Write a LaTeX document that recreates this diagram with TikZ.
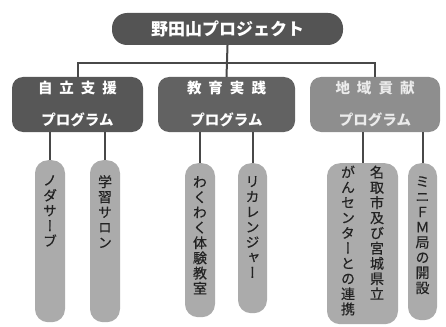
\documentclass[tikz,border=0pt]{standalone}
\usepackage{fontspec}
\setmainfont{Noto Sans CJK JP}
\newfontfamily\jpv[RawFeature=+vert,FakeBold=0.35]{Noto Sans CJK JP}
\definecolor{topgray}{HTML}{545454}
\definecolor{boxA}{HTML}{575757}
\definecolor{boxB}{HTML}{626262}
\definecolor{boxC}{HTML}{8E8E8E}
\definecolor{leafgray}{HTML}{ABABAB}
\definecolor{linegray}{HTML}{484848}
\definecolor{leaftext}{HTML}{222222}
\newcommand\vcol[3]{\vtop{\hsize=#2\parindent=0pt\vspace*{#1}\centering #3\par}}
\newcommand\leafbox[3]{\parbox[c][#1][t]{#2}{\centering\leavevmode#3\par}}
\tikzset{
  topnode/.style={fill=topgray, text=white, rounded corners=15pt, inner sep=0pt,
    minimum width=231pt, minimum height=32pt, font=\bfseries\fontsize{17}{20}\selectfont},
  progbox/.style={rounded corners=11pt, inner sep=0pt, minimum height=55pt,
    align=center, font=\bfseries\fontsize{14.5}{32}\selectfont},
  leaf/.style={fill=leafgray, rounded corners=13pt, inner sep=0pt, anchor=north,
    text=leaftext, font=\jpv\fontsize{14}{15.2}\selectfont},
  conn/.style={draw=linegray, line width=2pt}
}
\begin{document}
\begin{tikzpicture}[x=1pt,y=-1pt]
\useasboundingbox (0,0) rectangle (446,326);
\node[topnode] (top) at (227.5,29) {野田山プロジェクト};
\node[progbox, fill=boxA, text=white, minimum width=131pt] (p1) at (77.5,104.5)
  {自\hspace{7pt}立\hspace{7pt}支\hspace{7pt}援\\プログラム};
\node[progbox, fill=boxB, text=white, minimum width=137pt] (p2) at (226.5,104.5)
  {教\hspace{7pt}育\hspace{7pt}実\hspace{7pt}践\\プログラム};
\node[progbox, fill=boxC, text=white!92!black, minimum width=130pt] (p3) at (375,104.5)
  {地\hspace{7pt}域\hspace{7pt}貢\hspace{7pt}献\\プログラム};
\coordinate (bus) at (227.5,63);
\draw[conn] (top.south) -- (p2.north);
\draw[conn] (p1.north) |- (bus) -| (p3.north);

\node[leaf] (l1) at (50,160) {\leafbox{162pt}{30pt}{\vcol{15pt}{30pt}{ノ\\ダ\\サ\\ー\\ブ}}};
\node[leaf] (l2) at (105,160) {\leafbox{162pt}{30pt}{\vcol{15pt}{30pt}{学\\習\\サ\\ロ\\ン}}};
\node[leaf] (l3) at (200,163) {\leafbox{154pt}{30pt}{\vcol{13pt}{30pt}{わ\\く\\わ\\く\\体\\験\\教\\室}}};
\node[leaf] (l4) at (252.5,163) {\leafbox{150pt}{29pt}{\vcol{13pt}{29pt}{リ\\カ\\レ\\ン\\ジ\\ャ\\ー}}};
\node[leaf] (l5) at (362.5,163) {\leafbox{161pt}{71pt}{%
  \vcol{2.5pt}{15pt}{が\\ん\\セ\\ン\\タ\\ー\\と\\の\\連\\携}%
  \hspace{14pt}%
  \vcol{2.5pt}{15pt}{名\\取\\市\\及\\び\\宮\\城\\県\\立}}};
\node[leaf] (l6) at (422.5,163) {\leafbox{157pt}{29pt}{\vcol{13pt}{29pt}{ミ\\ニ\\Ｆ\\Ｍ\\局\\の\\開\\設}}};

\draw[conn] (p1.south -| l1.north) -- (l1.north);
\draw[conn] (p1.south -| l2.north) -- (l2.north);
\draw[conn] (p2.south -| l3.north) -- (l3.north);
\draw[conn] (p2.south -| l4.north) -- (l4.north);
\draw[conn] (p3.south -| l5.north) -- (l5.north);
\draw[conn] (p3.south -| l6.north) -- (l6.north);
\end{tikzpicture}
\end{document}
